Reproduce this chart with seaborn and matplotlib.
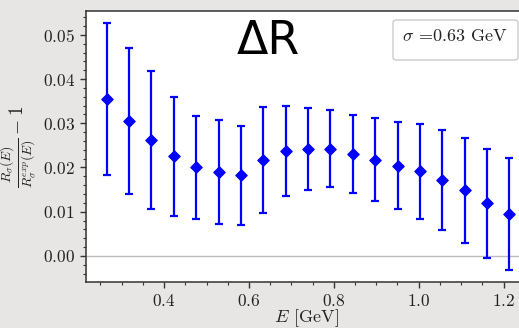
import matplotlib
matplotlib.use("Agg")
import matplotlib.pyplot as plt
import seaborn as sns
import numpy as np
import pandas as pd
from matplotlib.patches import FancyBboxPatch
from matplotlib.ticker import MultipleLocator

# ---- data ----
energy = [0.265, 0.318, 0.370, 0.423, 0.476, 0.529, 0.581, 0.634, 0.687, 0.740,
          0.792, 0.845, 0.898, 0.951, 1.003, 1.056, 1.109, 1.162, 1.214]
ratio = [0.0355, 0.0305, 0.0262, 0.0225, 0.0200, 0.0190, 0.0182, 0.0217, 0.0237, 0.0242,
         0.0242, 0.0230, 0.0218, 0.0204, 0.0191, 0.0172, 0.0148, 0.0119, 0.0095]
err = [0.0171, 0.0166, 0.0157, 0.0134, 0.0116, 0.0117, 0.0112, 0.0120, 0.0101, 0.0093,
       0.0087, 0.0088, 0.0093, 0.0099, 0.0108, 0.0113, 0.0118, 0.0123, 0.0127]
legend_label = r"$\sigma$ =0.63 GeV"
annotation = "ΔR"

df = pd.DataFrame({"E": energy, "r": ratio, "err": err})

sns.set_theme(style="ticks")
plt.rcParams["font.family"] = ["serif"]
plt.rcParams["font.serif"] = ["cmr10", "DejaVu Serif"]
plt.rcParams["mathtext.fontset"] = "cm"
plt.rcParams["axes.formatter.use_mathtext"] = True

W, H = 519, 328
fig = plt.figure(figsize=(W / 100, H / 100), dpi=100)
fig.patch.set_facecolor("#e7e6e4")
ax = fig.add_axes([86 / W, 1 - 282 / H, (526 - 86) / W, (282 - 11) / H])
ax.set_facecolor("white")

ax.axhline(0, color="#bdbdbd", lw=1.0, zorder=1)
ax.errorbar(df["E"], df["r"], yerr=df["err"], fmt="none", ecolor="#0000ff",
            elinewidth=1.6, capsize=3.2, capthick=1.6, zorder=2)
sns.scatterplot(data=df, x="E", y="r", marker="D", s=34, color="#0000ff",
                edgecolor="#0000ff", linewidth=0.8, ax=ax, zorder=3)

ax.set_xlim(0.216, 1.253)
ax.set_ylim(-0.0059, 0.0554)
ax.xaxis.set_major_locator(MultipleLocator(0.2))
ax.xaxis.set_minor_locator(MultipleLocator(0.05))
ax.yaxis.set_major_locator(MultipleLocator(0.01))
ax.yaxis.set_minor_locator(MultipleLocator(0.002))
ax.tick_params(axis="both", which="major", labelsize=12.5, length=4, width=1.0,
               color="#333333", labelcolor="#222222", pad=4)
ax.tick_params(axis="both", which="minor", length=2.5, width=0.8, color="#333333")
for s in ax.spines.values():
    s.set_color("#333333")
    s.set_linewidth(1.1)

ax.set_xlabel(r"$E$ [GeV]", fontsize=13, color="#222222", labelpad=-1)
ax.set_ylabel(r"$\frac{R_\sigma(E)}{R_\sigma^{exp}(E)}-1$", fontsize=14, color="#222222")
ax.yaxis.set_label_coords(-0.108, 0.5)

# legend-like box
box = FancyBboxPatch((393 / W, 1 - 60 / H), (518 - 393) / W, 40 / H,
                     boxstyle="round,pad=0,rounding_size=0.008",
                     transform=fig.transFigure, facecolor="white",
                     edgecolor="#cccccc", lw=1.0, zorder=5)
fig.patches.append(box)
fig.text(455 / W, 1 - 36 / H, legend_label, fontsize=13, ha="center", va="center",
         color="#222222", zorder=6)

fig.text(268 / W, 1 - 42 / H, annotation, fontsize=33, ha="center", va="center",
         color="black", family=["DejaVu Sans"])

fig.savefig("out.png", dpi=100)
